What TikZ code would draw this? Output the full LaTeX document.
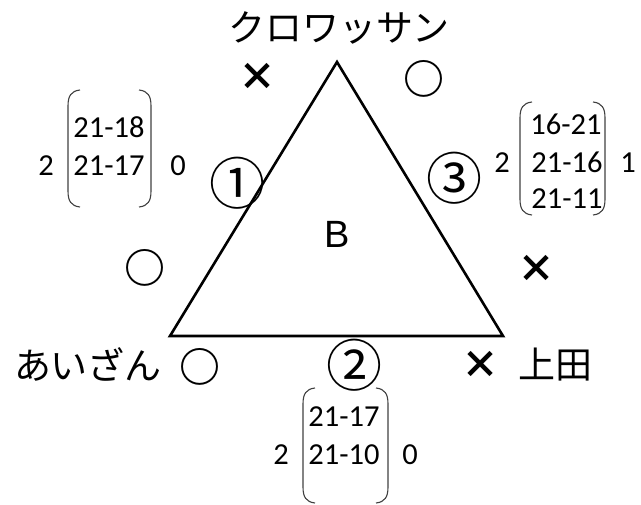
\documentclass[tikz,border=0pt]{standalone}
\usepackage{fontspec}
\setmainfont{Carlito}
\newfontfamily\jpfont{Noto Sans CJK JP}
\newfontfamily\arialfont{Liberation Sans}
\begin{document}
\begin{tikzpicture}[x=1pt,y=-1pt,
  jptext/.style={font=\jpfont\fontsize{37}{40}\selectfont, inner sep=0pt},
  symx/.style={font=\jpfont\bfseries\fontsize{38}{40}\selectfont, inner sep=0pt},
  symo/.style={font=\jpfont\bfseries\fontsize{41}{44}\selectfont, inner sep=0pt},
  circnum/.style={font=\jpfont\fontsize{56}{60}\selectfont, inner sep=0pt},
  num/.style={font=\fontsize{30.5}{34}\selectfont, inner sep=0pt},
  brk/.style={line width=1.1pt, draw=black!75},
  tri/.style={line width=2.6pt, line join=miter}]
\useasboundingbox (0,0) rectangle (641,505);
% triangle
\coordinate (T) at (337,62);
\coordinate (L) at (170,336);
\coordinate (R) at (503,336);
\draw[tri] (T) -- (L) -- (R) -- cycle;
% vertex labels
\node[jptext] (kuro) at (339,28) {クロワッサン};
\node[jptext] (aizan) at (88,364) {あいざん};
\node[jptext] (ueda) at (555,365) {上田};
% marks
\node[symx] (m1) at (257,77) {×};
\node[symo] (m2) at (424,79) {○};
\node[symo] (m3) at (145,268) {○};
\node[symx] (m4) at (536,269) {×};
\node[symo] (m5) at (200,367) {○};
\node[symx] (m6) at (480,365) {×};
% edge numbers
\node[circnum] (c1) at (237,183) {①};
\node[circnum] (c2) at (354,365) {②};
\node[circnum] (c3) at (454,178) {③};
\node[font=\arialfont\fontsize{38}{42}\selectfont, inner sep=0pt] (B) at (337,234) {B};
% left matrix
\node[num] (l2) at (46,166) {2};
\node[num] (l0) at (178,166) {0};
\node[num] (la) at (109,127) {21-18};
\node[num] (lb) at (109,166) {21-17};
\draw[brk] (80,90) .. controls (71,91) and (68,96) .. (68,106) -- (68,191) .. controls (68,201) and (71,206) .. (80,207);
\draw[brk] (139,90) .. controls (148,91) and (151,96) .. (151,106) -- (151,191) .. controls (151,201) and (148,206) .. (139,207);
% right matrix
\node[num] (r2) at (502,163) {2};
\node[num] (r1) at (628,163) {1};
\node[num] (ra) at (566,124) {16-21};
\node[num] (rb) at (567,162) {21-16};
\node[num] (rc) at (567,199) {21-11};
\draw[brk] (532,102) .. controls (523,103) and (520,108) .. (520,118) -- (520,199) .. controls (520,209) and (523,214) .. (532,215);
\draw[brk] (593,102) .. controls (602,103) and (605,108) .. (605,118) -- (605,199) .. controls (605,209) and (602,214) .. (593,215);
% bottom matrix
\node[num] (b2) at (281,455) {2};
\node[num] (b0) at (410,455) {0};
\node[num] (ba) at (344,417) {21-17};
\node[num] (bb) at (344,455) {21-10};
\draw[brk] (315,388) .. controls (306,389) and (303,394) .. (303,404) -- (303,487) .. controls (303,497) and (306,502) .. (315,503);
\draw[brk] (376,388) .. controls (385,389) and (388,394) .. (388,404) -- (388,487) .. controls (388,497) and (385,502) .. (376,503);
\end{tikzpicture}
\end{document}
